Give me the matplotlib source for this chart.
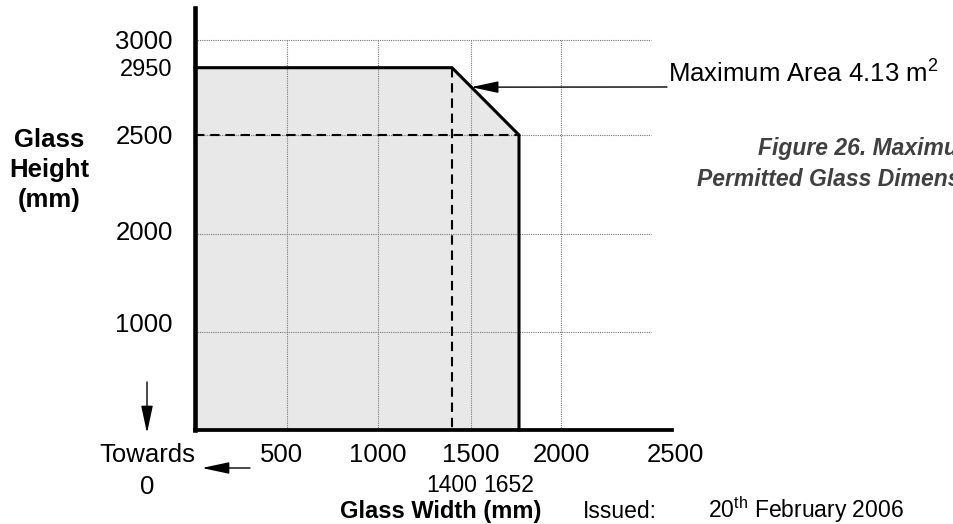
import numpy as np
import matplotlib
matplotlib.use('Agg')
import matplotlib.pyplot as plt
import matplotlib.transforms as mtransforms

plt.rcParams['font.family'] = ['Liberation Sans', 'DejaVu Sans']
plt.rcParams['mathtext.fontset'] = 'custom'
plt.rcParams['mathtext.rm'] = 'Liberation Sans'

# permitted glass area (mm)
area_w = [0, 0, 1400, 1652, 1652]
area_h = [0, 2950, 2950, 2500, 0]
outline_w = [0, 1400, 1652, 1652]
outline_h = [2950, 2950, 2500, 0]
width_at_max_h = 1400
height_at_max_w = 2500
max_w = 1652

x_ticks = [500, 1000, 1500, 2000, 2500]
y_ticks = [1000, 2000, 2500, 2950, 3000]
x_grid = [500, 1000, 1500, 2000]
y_grid = [1000, 2000, 2500, 3000]

# the drawing is not to scale -> piecewise axis scales (value -> pixel)
x_knots = [0, 500, 1000, 1500, 1652, 2000, 2500, 2617]
x_pix = [195, 286.7, 378, 470.5, 519, 561, 651, 672]
y_knots = [0, 1000, 2000, 2500, 2950, 3000, 3056]
y_pix = [-430, -332, -234, -135, -67.7, -39.5, -8]

W, H = 954, 524


def fp(x, y):
    return (x / W, 1 - y / H)


fig = plt.figure(figsize=(W / 100, H / 100), dpi=100)
ax = fig.add_axes([195 / W, (H - 430) / H, (672 - 195) / W, (430 - 8) / H])
ax.set_xscale('function', functions=(lambda v: np.interp(v, x_knots, x_pix),
                                     lambda p: np.interp(p, x_pix, x_knots)))
ax.set_yscale('function', functions=(lambda v: np.interp(v, y_knots, y_pix),
                                     lambda p: np.interp(p, y_pix, y_knots)))
ax.set_xlim(0, 2617)
ax.set_ylim(0, 3056)

ax.fill(area_w, area_h, color='#e8e8e8', lw=0, zorder=1)
ax.vlines(x_grid, 0, 3000, colors='#777777', linestyles=(0, (1, 1)), lw=0.8, zorder=2)
ax.hlines(y_grid, 0, 2500, colors='#777777', linestyles=(0, (1, 1)), lw=0.8, zorder=2)
ax.plot([0, max_w], [height_at_max_w, height_at_max_w], color='black',
        ls=(0, (4.5, 2.8)), lw=1.5, zorder=3)
ax.plot([width_at_max_h, width_at_max_h], [2950, 0], color='black',
        ls=(0, (4.5, 2.8)), lw=1.5, zorder=3)
ax.plot(outline_w, outline_h, color='black', lw=2.2, zorder=4,
        solid_joinstyle='miter', clip_on=False)

for s in ['top', 'right']:
    ax.spines[s].set_visible(False)
ax.spines['left'].set_linewidth(3.3)
ax.spines['bottom'].set_linewidth(2.7)
ax.spines['left'].set_zorder(5)
ax.spines['bottom'].set_zorder(5)

ax.set_xticks(x_ticks)
ax.set_xticklabels([str(v) for v in x_ticks])
ax.set_yticks(y_ticks)
ax.set_yticklabels([str(v) for v in y_ticks])
ax.tick_params(axis='both', length=0, labelsize=18.5)
ax.tick_params(axis='x', pad=9)
ax.tick_params(axis='y', pad=16)


def shift(lbl, dx, dy):
    lbl.set_transform(lbl.get_transform() +
                      mtransforms.ScaledTranslation(dx / 100, dy / 100, fig.dpi_scale_trans))


xl = ax.get_xticklabels()
shift(xl[0], -5, 0)
shift(xl[-1], 24, 0)
yl = ax.get_yticklabels()
shift(yl[0], 0, 9)
shift(yl[1], 0, 4)
yl[3].set_fontsize(17)

# values under the axis
bt = mtransforms.blended_transform_factory(ax.transData, fig.transFigure)
ax.text(width_at_max_h, 1 - 485 / H, str(width_at_max_h), transform=bt,
        ha='center', va='center', fontsize=16.5)
ax.text(max_w, 1 - 485 / H, str(max_w), transform=bt,
        ha='center', va='center', fontsize=16.5)
shift(ax.texts[-1], -10, 0)

# axis titles
for txt, yy in [('Glass', 140), ('Height', 170), ('(mm)', 200)]:
    fig.text(*fp(49, yy), txt, ha='center', va='center', fontsize=18.5, fontweight='bold')
fig.text(*fp(441, 518), 'Glass Width (mm)', ha='center', va='baseline',
         fontsize=17, fontweight='bold')

fig.text(*fp(147, 455), 'Towards', ha='center', va='center', fontsize=18.5)
fig.text(*fp(147, 487), '0', ha='center', va='center', fontsize=18.5)

arrow = dict(arrowstyle='-|>,head_length=1.4,head_width=0.3', mutation_scale=12,
             color='black', lw=1, shrinkA=0, shrinkB=0)
ax.annotate('', xy=fp(147, 433), xycoords='figure fraction',
            xytext=fp(147, 382), textcoords='figure fraction',
            arrowprops=arrow, annotation_clip=False)
ax.annotate('', xy=fp(202, 468), xycoords='figure fraction',
            xytext=fp(250, 468), textcoords='figure fraction',
            arrowprops=arrow, annotation_clip=False)
ax.annotate('', xy=(1502, 2820), xycoords='data',
            xytext=fp(667, 87), textcoords='figure fraction',
            arrowprops=arrow, annotation_clip=False)

fig.text(*fp(668, 73), 'Maximum Area 4.13 m$^2$', ha='left', va='center', fontsize=18.5)

# caption runs off the right edge, as in the source page
fig.text(*fp(758, 148), 'Figure 26. Maximum', ha='left', va='center', fontsize=16.5,
         fontweight='bold', fontstyle='italic', color='#404040')
fig.text(*fp(697, 180), 'Permitted Glass Dimensions', ha='left', va='center', fontsize=16.5,
         fontweight='bold', fontstyle='italic', color='#404040')

fig.text(*fp(583, 518), 'Issued:', ha='left', va='baseline', fontsize=16.5)
fig.text(*fp(708, 518), r'20$^{\mathrm{th}}$ February 2006', ha='left', va='baseline',
         fontsize=16.5)

fig.savefig('out.png', dpi=100)
